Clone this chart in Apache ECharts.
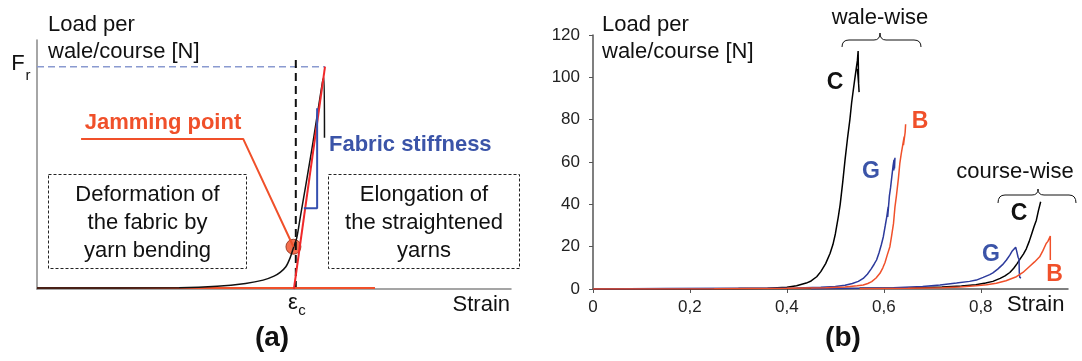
<!DOCTYPE html>
<html>
<head>
<meta charset="utf-8">
<script src="https://cdn.jsdelivr.net/npm/echarts@6/dist/echarts.min.js"></script>
<style>
  html, body { margin: 0; padding: 0; background: #fff; }
  #chart { width: 1082px; height: 361px; }
</style>
</head>
<body>
<div id="chart"></div>
<script>
// (a) schematic curve, normalised strain / load (Fr = 1)
const schemCurveX = [0, 0.30, 0.38, 0.44, 0.477, 0.50, 0.513, 0.525, 0.534, 0.541, 0.548, 0.556, 0.58, 0.603, 0.6055, 0.6065];
const schemCurveY = [0.004, 0.006, 0.012, 0.025, 0.04, 0.058, 0.075, 0.1, 0.14, 0.185, 0.23, 0.33, 0.63, 0.94, 0.95, 0.68];
const epsC = 0.546;
const stiffLineX = [0.542, 0.6076];
const stiffLineY = [0, 1];
const jamPoint = [0.541, 0.19];
const triangleX = [0.563, 0.591, 0.591];
const triangleY = [0.363, 0.363, 0.813];
const leaderX = [0.541, 0.435, 0.093];
const leaderY = [0.19, 0.675, 0.675];

// (b) measured curves, strain vs load per wale/course [N]
const waleC_x = [0, 0.2, 0.3, 0.36, 0.40, 0.42, 0.44, 0.45, 0.4615, 0.47, 0.48, 0.489, 0.495, 0.50, 0.506, 0.51, 0.515, 0.52, 0.525, 0.53, 0.5336, 0.537, 0.54, 0.543, 0.5455, 0.547, 0.548, 0.5455, 0.5475, 0.549];
const waleC_y = [0, 0.1, 0.2, 0.4, 0.8, 1.5, 2.8, 3.8, 5.8, 8.2, 12, 16.8, 21, 26, 34, 40, 50, 61, 71, 80, 88, 94, 99, 104, 108, 112.4, 97, 104, 99, 93];
const waleG_x = [0, 0.15, 0.3, 0.42, 0.47, 0.5, 0.52, 0.535, 0.5475, 0.5575, 0.566, 0.574, 0.58, 0.585, 0.59, 0.595, 0.599, 0.603, 0.606, 0.609, 0.608, 0.6115, 0.614, 0.617, 0.619, 0.621, 0.6205, 0.623, 0.622];
const waleG_y = [0, 0.2, 0.3, 0.5, 0.8, 1.2, 1.8, 2.6, 3.6, 5, 7, 9.5, 11.7, 13.7, 17, 21, 24.7, 30, 34, 38.8, 34, 44, 48, 54, 58, 61, 56, 62, 57];
const waleB_x = [0, 0.25, 0.4, 0.48, 0.52, 0.545, 0.5575, 0.567, 0.575, 0.584, 0.592, 0.598, 0.6025, 0.607, 0.6125, 0.616, 0.62, 0.623, 0.626, 0.63, 0.633, 0.636, 0.639, 0.642, 0.6405, 0.644, 0.645];
const waleB_y = [0, 0.1, 0.3, 0.6, 1.0, 1.5, 1.9, 2.6, 3.5, 5.2, 7.4, 10, 12.5, 16, 20, 25, 31, 38.8, 44, 52, 59.3, 64, 68, 72, 68, 74, 77.8];
const courseC_x = [0, 0.45, 0.55, 0.65, 0.72, 0.76, 0.79, 0.81, 0.825, 0.84, 0.85, 0.86, 0.868, 0.875, 0.882, 0.888, 0.894, 0.9, 0.905, 0.91, 0.9147, 0.919, 0.9236];
const courseC_y = [0, 0.2, 0.3, 0.5, 0.9, 1.4, 2.0, 2.8, 3.6, 5, 6.2, 7.8, 9.8, 12, 14.5, 16.5, 19, 22.5, 26, 29.5, 32.5, 37, 41.2];
const courseG_x = [0.45, 0.55, 0.62, 0.68, 0.716, 0.75, 0.777, 0.791, 0.805, 0.8185, 0.825, 0.835, 0.845, 0.853, 0.86, 0.865, 0.869, 0.872, 0.874, 0.877, 0.879, 0.8795, 0.8805, 0.883];
const courseG_y = [0.1, 0.3, 0.6, 1.2, 1.9, 2.8, 3.6, 4.2, 5.5, 6.8, 7.6, 9.4, 11.5, 13.7, 16, 18, 17.5, 19.7, 18, 15, 14, 8, 5.5, 5.2];
const courseB_x = [0.55, 0.65, 0.72, 0.757, 0.79, 0.812, 0.832, 0.852, 0.8735, 0.887, 0.9, 0.911, 0.9215, 0.928, 0.935, 0.9385, 0.941, 0.9435, 0.9435];
const courseB_y = [0.1, 0.3, 0.6, 1.0, 1.5, 2.0, 2.7, 3.9, 5.8, 7.8, 10.5, 12.8, 15.2, 18, 21.5, 22.5, 22, 25, 13.7];

const strainTicks = [0, 0.2, 0.4, 0.6, 0.8];

const RED = '#f0502a';
const BLUE = '#2c3a9c';
const FONT = '"Liberation Sans", Arial, sans-serif';

const pairs = (xs, ys) => xs.map((x, i) => [x, ys[i]]);

const chart = echarts.init(document.getElementById('chart'));

function line(name, xs, ys, color, idx, extra) {
  return Object.assign({
    name: name,
    type: 'line',
    xAxisIndex: idx,
    yAxisIndex: idx,
    data: pairs(xs, ys),
    showSymbol: false,
    silent: true,
    animation: false,
    lineStyle: { color: color, width: 1.5 }
  }, extra || {});
}

function txt(text, x, y, size, opts) {
  opts = opts || {};
  return {
    type: 'text',
    x: x,
    y: y,
    silent: true,
    style: {
      text: text,
      fontSize: size,
      fontFamily: FONT,
      fontWeight: opts.bold ? 'bold' : 'normal',
      fill: opts.color || '#111',
      align: opts.align || 'center',
      verticalAlign: 'middle'
    }
  };
}

// curly brace drawn with bezier pieces
function brace(x1, x2, tipX, yEnd, yMid, yTip) {
  const r = 7;
  const st = { fill: 'none', stroke: '#111', lineWidth: 1 };
  const q = (a, b, c, d, e, f) => ({ type: 'bezierCurve', silent: true, shape: { x1: a, y1: b, cpx1: c, cpy1: d, x2: e, y2: f }, style: st });
  const l = (a, b, c, d) => ({ type: 'line', silent: true, shape: { x1: a, y1: b, x2: c, y2: d }, style: st });
  return [
    q(x1, yEnd, x1, yMid, x1 + r, yMid),
    l(x1 + r, yMid, tipX - 6, yMid),
    q(tipX - 6, yMid, tipX, yMid, tipX, yTip),
    q(tipX, yTip, tipX, yMid, tipX + 6, yMid),
    l(tipX + 6, yMid, x2 - r, yMid),
    q(x2 - r, yMid, x2, yMid, x2, yEnd)
  ];
}

const option = {
  animation: false,
  grid: [
    { left: 37, top: 40, width: 474, height: 249 },
    { left: 593, top: 35, width: 475, height: 254 }
  ],
  xAxis: [
    {
      gridIndex: 0, type: 'value', min: 0, max: 1,
      axisLine: { lineStyle: { color: '#888', width: 1.5 } },
      axisTick: { show: false }, axisLabel: { show: false }, splitLine: { show: false }
    },
    {
      gridIndex: 1, type: 'value', min: 0, max: 0.98,
      axisLine: { lineStyle: { color: '#555', width: 1.5 } },
      axisTick: { show: true, length: 4, customValues: strainTicks, lineStyle: { color: '#555' } },
      axisLabel: {
        customValues: strainTicks, margin: 10, fontSize: 17, fontFamily: FONT, color: '#222',
        formatter: v => String(v).replace('.', ',')
      },
      splitLine: { show: false }
    }
  ],
  yAxis: [
    {
      gridIndex: 0, type: 'value', min: 0, max: 1.12,
      axisLine: { show: true, lineStyle: { color: '#888', width: 1.5 } },
      axisTick: { show: false }, axisLabel: { show: false }, splitLine: { show: false }
    },
    {
      gridIndex: 1, type: 'value', min: 0, max: 120, interval: 20,
      axisLine: { show: true, lineStyle: { color: '#555', width: 1.5 } },
      axisTick: { show: true, length: 4, lineStyle: { color: '#555' } },
      axisLabel: { margin: 13, fontSize: 17, fontFamily: FONT, color: '#222' },
      splitLine: { show: false }
    }
  ],
  series: [
    // (a)
    line('Fr', [0, stiffLineX[1]], [1, 1], '#8a9ad0', 0, { lineStyle: { color: '#8a9ad0', width: 1.5, type: [7, 4] } }),
    line('epsc', [epsC, epsC], [0, 1.03], '#111', 0, { lineStyle: { color: '#111', width: 2, type: [8, 5] } }),
    line('base', [0, 0.713], [0.004, 0.004], RED, 0, { lineStyle: { color: RED, width: 2 } }),
    line('curve', schemCurveX, schemCurveY, '#111', 0, { smooth: 0.3 }),
    line('stiff', stiffLineX, stiffLineY, '#f0282a', 0, { lineStyle: { color: '#f0282a', width: 2 } }),
    line('triangle', triangleX, triangleY, '#3550b0', 0, { lineStyle: { color: '#3550b0', width: 2 } }),
    line('leader', leaderX, leaderY, RED, 0, { lineStyle: { color: RED, width: 2 } }),
    {
      type: 'scatter', xAxisIndex: 0, yAxisIndex: 0, data: [jamPoint], symbolSize: 15, silent: true,
      itemStyle: { color: '#f04a22', borderColor: '#8a2a10', borderWidth: 1 }
    },
    // (b)
    line('wale C', waleC_x, waleC_y, '#000', 1),
    line('course C', courseC_x, courseC_y, '#000', 1),
    line('course G', courseG_x, courseG_y, BLUE, 1),
    line('course B', courseB_x, courseB_y, RED, 1),
    line('wale G', waleG_x, waleG_y, BLUE, 1),
    line('wale B', waleB_x, waleB_y, RED, 1)
  ],
  graphic: [
    // (a) texts
    txt('Load per', 48, 25, 22, { align: 'left' }),
    txt('wale/course [N]', 48, 52, 22, { align: 'left' }),
    txt('F', 18, 64, 22),
    txt('r', 28, 76, 15),
    txt('Jamming point', 163, 123, 22, { bold: true, color: RED }),
    txt('Fabric stiffness', 329, 145, 22, { bold: true, color: '#3b54a8', align: 'left' }),
    {
      type: 'rect', silent: true, shape: { x: 48.5, y: 174.5, width: 198, height: 94 },
      style: { fill: 'none', stroke: '#222', lineWidth: 1, lineDash: [3, 2] }
    },
    {
      type: 'rect', silent: true, shape: { x: 328.5, y: 174.5, width: 191, height: 94 },
      style: { fill: 'none', stroke: '#222', lineWidth: 1, lineDash: [3, 2] }
    },
    txt('Deformation of', 147.5, 195, 22),
    txt('the fabric by', 147.5, 223, 22),
    txt('yarn bending', 147.5, 251, 22),
    txt('Elongation of', 424, 195, 22),
    txt('the straightened', 424, 223, 22),
    txt('yarns', 424, 251, 22),
    txt('ε', 293, 303, 22),
    txt('c', 302, 311, 15),
    txt('Strain', 510, 305, 22, { align: 'right' }),
    txt('(a)', 272, 338, 28, { bold: true }),
    // (b) texts
    txt('Load per', 602, 25, 22, { align: 'left' }),
    txt('wale/course [N]', 602, 52, 22, { align: 'left' }),
    txt('wale-wise', 880, 18, 22),
    txt('course-wise', 1015, 172, 22)
  ]
    .concat(brace(842, 921, 880, 47, 40, 33))
    .concat(brace(998, 1076, 1038, 203, 195, 189))
    .concat([
      txt('C', 835, 83, 23, { bold: true }),
      txt('B', 920, 122, 23, { bold: true, color: RED }),
      txt('G', 871, 172, 23, { bold: true, color: '#3b54a8' }),
      txt('C', 1019, 214, 23, { bold: true }),
      txt('G', 991, 255, 23, { bold: true, color: '#3b54a8' }),
      txt('B', 1054.5, 275, 23, { bold: true, color: RED }),
      txt('Strain', 1007, 305, 22, { align: 'left' }),
      txt('(b)', 843, 338, 28, { bold: true })
    ])
};

chart.setOption(option);
</script>
</body>
</html>
